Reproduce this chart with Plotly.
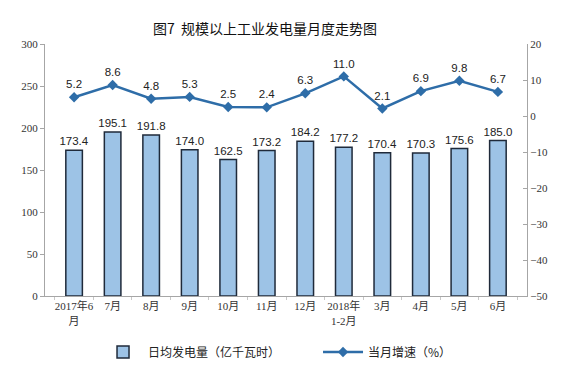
import plotly.graph_objects as go

categories = ["2017年6<br>月", "7月", "8月", "9月", "10月", "11月", "12月", "2018年<br>1-2月", "3月", "4月", "5月", "6月"]
daily_gen = [173.4, 195.1, 191.8, 174.0, 162.5, 173.2, 184.2, 177.2, 170.4, 170.3, 175.6, 185.0]
growth = [5.2, 8.6, 4.8, 5.3, 2.5, 2.4, 6.3, 11.0, 2.1, 6.9, 9.8, 6.7]

fig = go.Figure()
fig.add_trace(go.Bar(
    x=categories, y=daily_gen, name="日均发电量（亿千瓦时）",
    marker=dict(color="#9DC3E6", line=dict(color="#1F2A3A", width=1.5)),
    width=0.43,
    text=[f"{v:.1f}" for v in daily_gen], textposition="outside", constraintext="none",
    textfont=dict(family="Arial, Liberation Sans", size=11.5, color="#222"),
    cliponaxis=False,
))
fig.add_trace(go.Scatter(
    x=categories, y=growth, name="当月增速（%）", yaxis="y2",
    mode="lines+markers+text",
    line=dict(color="#2E6DA8", width=2.5),
    marker=dict(symbol="diamond", size=8, color="#2E6DA8"),
    text=[f"{v:.1f}" for v in growth], textposition="top center",
    textfont=dict(family="Arial, Liberation Sans", size=11.5, color="#222"),
    cliponaxis=False,
))

axis_font = dict(family="Liberation Serif, Times New Roman, serif", size=11, color="#333")
fig.update_layout(
    width=571, height=366,
    margin=dict(l=37, r=52, t=36, b=78, autoexpand=False),
    paper_bgcolor="white", plot_bgcolor="white",
    title=dict(text="图7  规模以上工业发电量月度走势图", xref="container", x=0.45, xanchor="center",
               yref="container", y=0.943, yanchor="middle",
               font=dict(family="Noto Sans CJK SC", size=14, color="#111")),
    xaxis=dict(showline=True, linecolor="#A6A6A6", ticks="outside", tickson="boundaries", ticklen=3,
               tickcolor="#C8C8C8", tickangle=0,
               tickfont=dict(family="Liberation Serif, Noto Sans CJK SC", size=11, color="#333"),
               showgrid=False),
    yaxis=dict(range=[0, 300], dtick=50, showline=True, linecolor="#A6A6A6", ticks="outside", ticklen=4,
               tickcolor="#A6A6A6", showgrid=False, zeroline=False, tickfont=axis_font),
    yaxis2=dict(range=[-50, 20], dtick=10, overlaying="y", side="right", showline=True, linecolor="#A6A6A6",
                ticks="inside", ticklen=4, tickcolor="#A6A6A6", showgrid=False, zeroline=False, tickfont=axis_font),
    legend=dict(orientation="h", x=0.11, xanchor="left", yref="container", y=0.06, yanchor="middle",
                font=dict(family="Noto Sans CJK SC", size=12, color="#222"), itemwidth=40,
                entrywidth=165, entrywidthmode="pixels"),
    showlegend=True,
)
fig.write_html("out.html")
